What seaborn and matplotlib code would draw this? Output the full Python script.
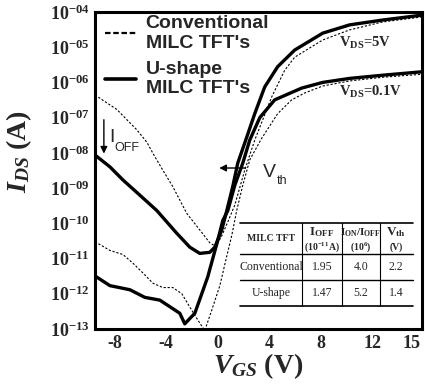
import numpy as np
import pandas as pd
import matplotlib
matplotlib.use("Agg")
import matplotlib.pyplot as plt
import seaborn as sns
from matplotlib.lines import Line2D

# ---------------- data ----------------
vgs_conv_5 = [-9.53, -7.83, -7.21, -6.28, -5.50, -5.04, -4.26, -3.49, -2.40, -1.40, -0.62, -0.16,
              0.31, 0.78, 1.32, 2.09, 2.87, 3.64, 4.19, 5.19, 5.97, 8.14, 10.23, 12.79, 15.81]
ids_conv_5 = [4.4e-7, 1.7e-7, 1.0e-7, 4.5e-8, 2.0e-8, 9.8e-9, 3.2e-9, 1.1e-9, 1.9e-10, 6.5e-11, 2.8e-11, 2.2e-11,
              4.4e-11, 1.1e-10, 3.3e-10, 3.2e-9, 2.3e-8, 1.2e-7, 3.9e-7, 2.2e-6, 5.2e-6, 1.6e-5, 3.1e-5, 5.2e-5, 7.2e-5]

vgs_conv_01 = [-9.53, -8.37, -7.36, -6.59, -5.81, -5.04, -4.26, -3.49, -2.79, -2.17, -1.55, -1.01,
               -0.47, 0.16, 0.62, 1.09, 1.47, 1.94, 2.48, 3.41, 4.65, 5.74, 6.74, 8.14, 10.23, 12.79, 15.81]
ids_conv_01 = [3.0e-11, 1.7e-11, 1.3e-11, 7.4e-12, 3.9e-12, 2.0e-12, 1.5e-12, 1.5e-12, 1.0e-12, 4.2e-13, 1.8e-13, 9.0e-14,
               3.4e-13, 1.7e-12, 8.9e-12, 4.6e-11, 2.3e-10, 1.2e-9, 6.3e-9, 2.6e-8, 1.3e-7, 3.2e-7, 5.0e-7, 7.9e-7,
               1.1e-6, 1.4e-6, 1.7e-6]

vgs_u_5 = [-9.53, -8.37, -7.36, -6.05, -4.73, -3.18, -2.17, -1.40, -0.62, -0.23, 0.31, 0.70, 1.16,
           1.55, 2.25, 2.87, 3.64, 4.65, 5.97, 8.14, 10.23, 12.79, 15.81]
ids_u_5 = [8.7e-9, 4.0e-9, 1.7e-9, 6.3e-10, 2.3e-10, 5.2e-11, 2.1e-11, 1.4e-11, 1.5e-11, 2.1e-11, 6.5e-11, 2.3e-10, 1.1e-9,
           5.1e-9, 2.8e-8, 1.3e-7, 7.4e-7, 2.8e-6, 8.3e-6, 2.5e-5, 4.3e-5, 5.9e-5, 8.1e-5]

vgs_u_01 = [-9.53, -8.37, -6.82, -5.66, -4.50, -2.95, -2.56, -1.78, -0.78, 0.00, 0.39, 0.78, 1.32, 1.94,
            2.48, 3.26, 4.42, 6.51, 8.14, 10.23, 12.79, 15.81]
ids_u_01 = [3.2e-12, 1.7e-12, 1.3e-12, 7.9e-13, 6.6e-13, 2.8e-13, 1.4e-13, 2.8e-13, 3.0e-12, 3.3e-11, 1.2e-10, 2.3e-10,
            1.2e-9, 5.1e-9, 2.3e-8, 1.0e-7, 3.2e-7, 6.9e-7, 1.0e-6, 1.3e-6, 1.6e-6, 2.0e-6]

x_ticks = [-8, -4, 0, 4, 8, 12, 15]
y_exponents = [-4, -5, -6, -7, -8, -9, -10, -11, -12, -13]

legend_labels = ["Conventional\nMILC TFT's", "U-shape\nMILC TFT's"]

table_header = ["MILC TFT", r"I$_{\mathregular{OFF}}$", r"I$_{\mathregular{ON}}$/I$_{\mathregular{OFF}}$", r"V$_{\mathregular{th}}$"]
table_units = ["", r"(10$^{-11}$A)", r"(10$^{6}$)", "(V)"]
table_devices = ["Conventional", "U-shape"]
table_ioff = ["1.95", "1.47"]
table_ratio = ["4.0", "5.2"]
table_vth = ["2.2", "1.4"]

# ---------------- style ----------------
sns.set_theme(style="white")
plt.rcParams["font.family"] = ["Liberation Serif", "DejaVu Serif"]
plt.rcParams["mathtext.fontset"] = "custom"
plt.rcParams["mathtext.rm"] = "Liberation Serif:bold"
plt.rcParams["mathtext.bf"] = "Liberation Serif:bold"
plt.rcParams["mathtext.it"] = "Liberation Serif:bold:italic"
plt.rcParams["mathtext.sf"] = "Liberation Sans"

fig = plt.figure(figsize=(4.25, 3.85), dpi=100)
ax = fig.add_axes([0.2235, 0.1455, 0.7694, 0.8234])

curves = [
    (vgs_conv_5, ids_conv_5, "conv"),
    (vgs_conv_01, ids_conv_01, "conv"),
    (vgs_u_5, ids_u_5, "u"),
    (vgs_u_01, ids_u_01, "u"),
]
for v, i, kind in curves:
    df = pd.DataFrame({"VGS": v, "IDS": i})
    if kind == "conv":
        sns.lineplot(data=df, x="VGS", y="IDS", ax=ax, sort=False, estimator=None,
                     color="black", lw=0.8, dashes=False, linestyle=(0, (2.0, 1.6)))
    else:
        sns.lineplot(data=df, x="VGS", y="IDS", ax=ax, sort=False, estimator=None,
                     color="black", lw=2.4)

ax.set_yscale("log")
ax.set_xlim(-9.53, 15.85)
ax.set_ylim(1e-13, 1e-4)
ax.set_xticks(x_ticks)
ax.set_xticklabels([f"{t}" for t in x_ticks])
ax.set_yticks([10.0 ** e for e in y_exponents])
ax.set_yticklabels([r"10$^{-%02d}$" % (-e) for e in y_exponents])
ax.minorticks_off()
ax.tick_params(direction="in", length=3.5, width=1.0, color="black", labelsize=13, pad=4)
for lab in ax.get_xticklabels() + ax.get_yticklabels():
    lab.set_fontweight("bold")
for s in ax.spines.values():
    s.set_linewidth(2.2)
    s.set_color("black")

ax.set_xlabel(r"$V_{GS}$ (V)", fontsize=20, fontweight="bold", labelpad=0)
ax.set_ylabel(r"$I_{DS}$ (A)", fontsize=20, fontweight="bold")
ax.yaxis.set_label_coords(-0.185, 0.56)

# legend
handles = [Line2D([], [], color="black", lw=1.6, linestyle=(0, (2.5, 1.2))),
           Line2D([], [], color="black", lw=2.6)]
leg = ax.legend(handles, legend_labels, loc="upper left", frameon=False,
                prop={"family": "Liberation Sans", "weight": "bold", "size": 14},
                handlelength=1.6, handletextpad=0.5, labelspacing=0.45,
                borderaxespad=0.1, bbox_to_anchor=(0.0, 1.02))

# annotations
ax.text(9.4, 10 ** -4.88, r"V$_{\mathregular{DS}}$=5V", fontsize=10.5, fontweight="bold",
        ha="left", va="center")
ax.text(9.4, 10 ** -6.27, r"V$_{\mathregular{DS}}$=0.1V", fontsize=10.5, fontweight="bold",
        ha="left", va="center")
ax.annotate("", xy=(-8.84, 10 ** -8.1), xytext=(-8.84, 10 ** -6.98),
            arrowprops=dict(arrowstyle="-|>", color="black", lw=1.0, mutation_scale=10))
ax.text(-8.45, 10 ** -7.55, "I", fontsize=14, family="Liberation Sans", ha="left", va="center")
ax.text(-8.0, 10 ** -7.85, "OFF", fontsize=9, family="Liberation Sans", ha="left", va="center")
ax.annotate("", xy=(-0.1, 10 ** -8.43), xytext=(2.35, 10 ** -8.43),
            arrowprops=dict(arrowstyle="-|>", color="black", lw=1.0, mutation_scale=10))
ax.text(3.5, 10 ** -8.55, "V", fontsize=14, family="Liberation Sans", ha="left", va="center")
ax.text(4.6, 10 ** -8.8, "th", fontsize=9, family="Liberation Sans", ha="left", va="center")

# inset table (axes fraction coordinates)
tx0, tx1 = 0.443, 0.972
col_sep = [0.633, 0.755, 0.872]
col_c = [0.538, 0.694, 0.813, 0.921]
ty_top, ty_h, ty_r, ty_bot = 0.334, 0.237, 0.155, 0.073
for yy, lw in [(ty_top, 1.2), (ty_h, 1.0), (ty_r, 1.0), (ty_bot, 1.2)]:
    ax.add_line(Line2D([tx0, tx1], [yy, yy], transform=ax.transAxes, color="black", lw=lw))
for xx in col_sep:
    ax.add_line(Line2D([xx, xx], [ty_bot, ty_top], transform=ax.transAxes, color="black", lw=0.8))
ax.text(col_c[0], 0.287, table_header[0], transform=ax.transAxes, fontsize=7, fontweight="bold",
        ha="center", va="center")
header_sizes = [None, 9.5, 8.0, 9.5]
for k in range(1, 4):
    ax.text(col_c[k], 0.305, table_header[k], transform=ax.transAxes, fontsize=header_sizes[k],
            fontweight="bold", ha="center", va="center")
    ax.text(col_c[k], 0.258, table_units[k], transform=ax.transAxes, fontsize=7, fontweight="bold",
            ha="center", va="center")
row_y = [0.196, 0.114]
for r in range(2):
    vals = [table_devices[r], table_ioff[r], table_ratio[r], table_vth[r]]
    for k, val in enumerate(vals):
        ax.text(col_c[k], row_y[r], val, transform=ax.transAxes, fontsize=8.5,
                ha="center", va="center")

fig.savefig("out.png", dpi=100)
